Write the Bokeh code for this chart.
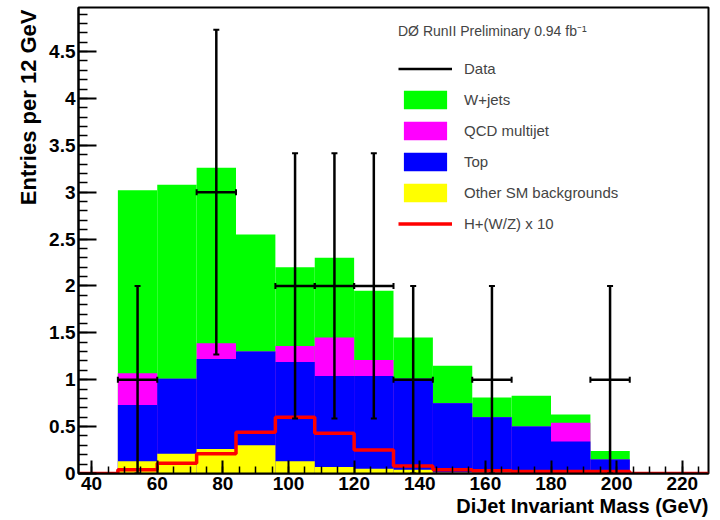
import numpy as np
from bokeh.plotting import figure
from bokeh.models import Range1d, FixedTicker, Legend, LegendItem, Title
from bokeh.embed import file_html
from bokeh.resources import INLINE

# ---------------- data ----------------
x_min, x_max = 36, 228
bin_edges = [48, 60, 72, 84, 96, 108, 120, 132, 144, 156, 168, 180, 192, 204]
other_sm = [0.13, 0.21, 0.26, 0.30, 0.13, 0.07, 0.05, 0.04, 0.01, 0.01, 0.01, 0.01, 0.01]
top_bkg  = [0.60, 0.80, 0.96, 1.00, 1.06, 0.97, 0.99, 0.97, 0.74, 0.59, 0.49, 0.33, 0.14]
qcd      = [0.34, 0.00, 0.17, 0.00, 0.17, 0.41, 0.17, 0.00, 0.00, 0.00, 0.00, 0.20, 0.00]
wjets    = [1.95, 2.07, 1.87, 1.25, 0.84, 0.85, 0.74, 0.44, 0.40, 0.21, 0.33, 0.09, 0.09]
signal_x10 = [0.04, 0.11, 0.21, 0.44, 0.60, 0.43, 0.25, 0.08, 0.04, 0.03, 0.02, 0.02, 0.02]
data_counts = [1, 0, 3, 0, 2, 2, 2, 1, 0, 1, 0, 0, 1]

x_ticks = [40, 60, 80, 100, 120, 140, 160, 180, 200, 220]
x_minor = list(range(40, 229, 5))
y_ticks = [0, 0.5, 1, 1.5, 2, 2.5, 3, 3.5, 4, 4.5]
y_tick_labels = ["0", "0.5", "1", "1.5", "2", "2.5", "3", "3.5", "4", "4.5"]
y_minor = [round(0.1 * i, 1) for i in range(0, 50)]

legend_title = "D\u00d8 RunII Preliminary 0.94 fb\u207b\u00b9"
x_title = "DiJet Invariant Mass (GeV)"
y_title = "Entries per 12 GeV"

# ---------------- derived ----------------
left = np.array(bin_edges[:-1], dtype=float)
right = np.array(bin_edges[1:], dtype=float)
centers = (left + right) / 2
c_other = np.array(other_sm)
c_top = c_other + np.array(top_bkg)
c_qcd = c_top + np.array(qcd)
c_w = c_qcd + np.array(wjets)

FONT = "Liberation Sans"

p = figure(width=716, height=519, output_backend="svg", toolbar_location=None,
           x_range=Range1d(x_min, x_max), y_range=Range1d(0, 4.97),
           min_border_left=78, min_border_right=8, min_border_top=7, min_border_bottom=46)
p.xgrid.visible = False
p.ygrid.visible = False
p.background_fill_color = "white"
p.border_fill_color = "white"
p.outline_line_color = "black"
p.outline_line_width = 2

# stacked histogram (each drawn from zero with cumulative height)
r_w = p.quad(left=left, right=right, bottom=0, top=c_w, fill_color="#00ff00", line_color=None)
r_q = p.quad(left=left, right=right, bottom=0, top=c_qcd, fill_color="#ff00ff", line_color=None)
r_t = p.quad(left=left, right=right, bottom=0, top=c_top, fill_color="#0000ff", line_color=None)
r_o = p.quad(left=left, right=right, bottom=0, top=c_other, fill_color="#ffff00", line_color=None)

# signal step line over full axis range
edges_full = [x_min] + bin_edges + [x_max]
vals_full = [0.0] + signal_x10 + [0.0]
sx, sy = [], []
for i in range(len(vals_full)):
    sx += [edges_full[i], edges_full[i + 1]]
    sy += [vals_full[i], vals_full[i]]
r_sig = p.line(sx, sy, line_color="#ff0000", line_width=3.5)

# data points with error bars
d = np.array(data_counts, dtype=float)
mask = d > 0
dc, dl, dr, dv = centers[mask], left[mask], right[mask], d[mask]
err = np.sqrt(dv)
r_data = p.segment(x0=dl, y0=dv, x1=dr, y1=dv, line_color="black", line_width=2.5)
p.segment(x0=dc, y0=dv - err, x1=dc, y1=dv + err, line_color="black", line_width=2.5)
p.scatter(x=np.concatenate([dc, dc]), y=np.concatenate([dv - err, dv + err]),
          marker="dash", size=6, line_color="black", line_width=2)
p.scatter(x=np.concatenate([dl, dr]), y=np.concatenate([dv, dv]),
          marker="dash", angle=np.pi / 2, size=6, line_color="black", line_width=2)

# axes
for ax in (p.xaxis[0], p.yaxis[0]):
    ax.axis_line_width = 2
    ax.major_tick_line_width = 2
    ax.minor_tick_line_width = 1.5
    ax.major_tick_out = 0
    ax.minor_tick_out = 0
    ax.major_label_text_font = FONT
    ax.major_label_text_font_style = "bold"
    ax.major_label_text_font_size = "19px"
    ax.major_label_text_color = "black"

p.xaxis.ticker = FixedTicker(ticks=x_ticks, minor_ticks=x_minor)
p.xaxis.major_tick_in = 13
p.xaxis.minor_tick_in = 7
p.xaxis.major_label_standoff = 3

p.yaxis.ticker = FixedTicker(ticks=y_ticks, minor_ticks=y_minor)
p.yaxis.major_label_overrides = {t: s for t, s in zip(y_ticks, y_tick_labels)}
p.yaxis.major_tick_in = 18
p.yaxis.minor_tick_in = 9
p.yaxis.major_label_standoff = 3

# axis titles (ROOT style: aligned to axis ends)
xt = Title(text=x_title, align="right", text_font=FONT, text_font_style="bold",
           text_font_size="20px", text_color="black", standoff=0, offset=0)
p.add_layout(xt, "below")
yt = Title(text=y_title, align="right", text_font=FONT, text_font_style="bold",
           text_font_size="22px", text_color="black", standoff=12, offset=2)
p.add_layout(yt, "left")

# legend
legend = Legend(items=[
    LegendItem(label="Data", renderers=[r_data]),
    LegendItem(label="W+jets", renderers=[r_w]),
    LegendItem(label="QCD multijet", renderers=[r_q]),
    LegendItem(label="Top", renderers=[r_t]),
    LegendItem(label="Other SM backgrounds", renderers=[r_o]),
    LegendItem(label="H+(W/Z) x 10", renderers=[r_sig]),
], location=(320, 238), title=legend_title)
legend.padding = 0
legend.margin = 0
legend.spacing = 8
legend.glyph_width = 54
legend.glyph_height = 23
legend.label_height = 23
legend.label_standoff = 12
legend.label_text_font = FONT
legend.label_text_font_size = "15px"
legend.title_text_font = FONT
legend.title_text_font_style = "normal"
legend.title_text_font_size = "14px"
legend.title_standoff = 17
legend.border_line_alpha = 0
legend.background_fill_alpha = 0
p.add_layout(legend)

open("out.html", "w").write(file_html(p, INLINE))
